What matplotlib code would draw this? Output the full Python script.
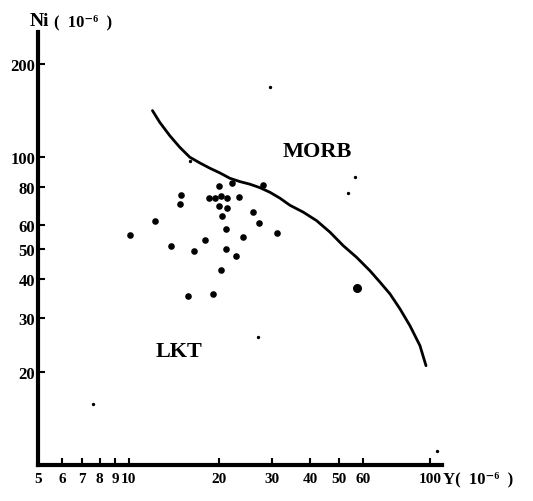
import matplotlib
matplotlib.use("Agg")
import matplotlib.pyplot as plt
from matplotlib.ticker import FixedLocator, FixedFormatter, NullLocator

# ---- data ----
sample_y = [19.95, 21.98, 28.0, 14.92, 14.77, 18.45, 19.35, 20.17, 21.22, 23.25,
            19.9, 21.2, 20.37, 25.76, 27.04, 12.2, 10.13, 21.05, 31.1, 23.87,
            17.93, 13.79, 16.48, 21.0, 22.79, 20.21, 15.7, 19.05]
sample_ni = [80.6, 82.3, 81.1, 75.0, 70.3, 73.4, 73.4, 74.6, 73.5, 73.9,
             69.1, 68.4, 64.3, 66.1, 61.1, 61.7, 55.8, 58.1, 56.4, 54.7,
             53.6, 51.2, 49.5, 50.3, 47.6, 42.8, 35.2, 35.9]
big_y = [57.35]
big_ni = [37.5]
speck_y = [29.4, 26.9, 7.59, 15.95, 105.5, 56.4, 53.4]
speck_ni = [169.2, 25.9, 15.7, 97.0, 11.0, 86.1, 76.4]

boundary_y = [11.99, 12.67, 13.68, 14.77, 15.94, 17.21, 18.58, 20.06, 21.66,
              23.38, 25.24, 27.25, 29.42, 31.75, 34.27, 37.94, 42.04, 46.53,
              51.52, 57.07, 63.19, 68.23, 73.65, 79.5, 85.8, 92.6, 97.0]
boundary_ni = [141.5, 129.7, 117.3, 107.5, 99.8, 95.6, 91.9, 88.7, 85.2,
               83.1, 81.5, 79.4, 76.7, 73.4, 69.6, 66.1, 62.0, 56.9,
               51.4, 47.1, 42.6, 39.1, 35.8, 32.0, 28.2, 24.3, 20.9]

x_ticks = [5, 6, 7, 8, 9, 10, 20, 30, 40, 50, 60, 100]
x_labels = ["5", "6", "7", "8", "9", "10", "20", "30", "40", "50", "60", "100"]
y_ticks = [20, 30, 40, 50, 60, 80, 100, 200]
y_labels = ["20", "30", "40", "50", "60", "80", "100", "200"]

serif = ["Liberation Serif", "DejaVu Serif"]

fig = plt.figure(figsize=(5.33, 5.02), dpi=100)
ax = fig.add_axes([38 / 533, 1 - 466 / 502, (442 - 38) / 533, (466 - 33) / 502])
ax.set_xscale("log")
ax.set_yscale("log")
ax.set_xlim(5.0, 109.6)
ax.set_ylim(9.93, 255)

ax.plot(boundary_y, boundary_ni, color="black", lw=2.0,
        solid_capstyle="round", solid_joinstyle="round")
ax.scatter(sample_y, sample_ni, s=14, color="black", zorder=3)
ax.scatter(big_y, big_ni, s=30, color="black", zorder=3)
ax.scatter(speck_y, speck_ni, s=2, color="black", zorder=3)

for side in ["top", "right"]:
    ax.spines[side].set_visible(False)
for side in ["left", "bottom"]:
    ax.spines[side].set_linewidth(3)

ax.xaxis.set_major_locator(FixedLocator(x_ticks))
ax.xaxis.set_major_formatter(FixedFormatter(x_labels))
ax.xaxis.set_minor_locator(NullLocator())
ax.yaxis.set_major_locator(FixedLocator(y_ticks))
ax.yaxis.set_major_formatter(FixedFormatter(y_labels))
ax.yaxis.set_minor_locator(NullLocator())
ax.tick_params(axis="x", direction="in", length=5, width=1.5, pad=5)
ax.tick_params(axis="y", direction="in", length=5, width=1.5, pad=2)
for lab in ax.get_xticklabels():
    lab.set_fontfamily(serif)
    lab.set_fontweight("bold")
    lab.set_fontsize(11)
for lab in ax.get_yticklabels():
    lab.set_fontfamily(serif)
    lab.set_fontweight("bold")
    lab.set_fontsize(12)

fig.text(30 / 533, 1 - 22 / 502, "Ni", family=serif, weight="bold", fontsize=14,
         va="center", ha="left")
fig.text(54 / 533, 1 - 22 / 502, "(  10⁻⁶  )", family=serif, weight="bold", fontsize=12,
         va="center", ha="left")
fig.text(443 / 533, 1 - 479 / 502, "Y(  10⁻⁶  )", family=serif, weight="bold", fontsize=12,
         va="center", ha="left")

fig.text(317 / 533, 1 - 152 / 502, "MORB", family=serif, weight="bold", fontsize=16,
         va="center", ha="center")
fig.text(179 / 533, 1 - 352 / 502, "LKT", family=serif, weight="bold", fontsize=16,
         va="center", ha="center")

fig.savefig("out.png", dpi=100)
